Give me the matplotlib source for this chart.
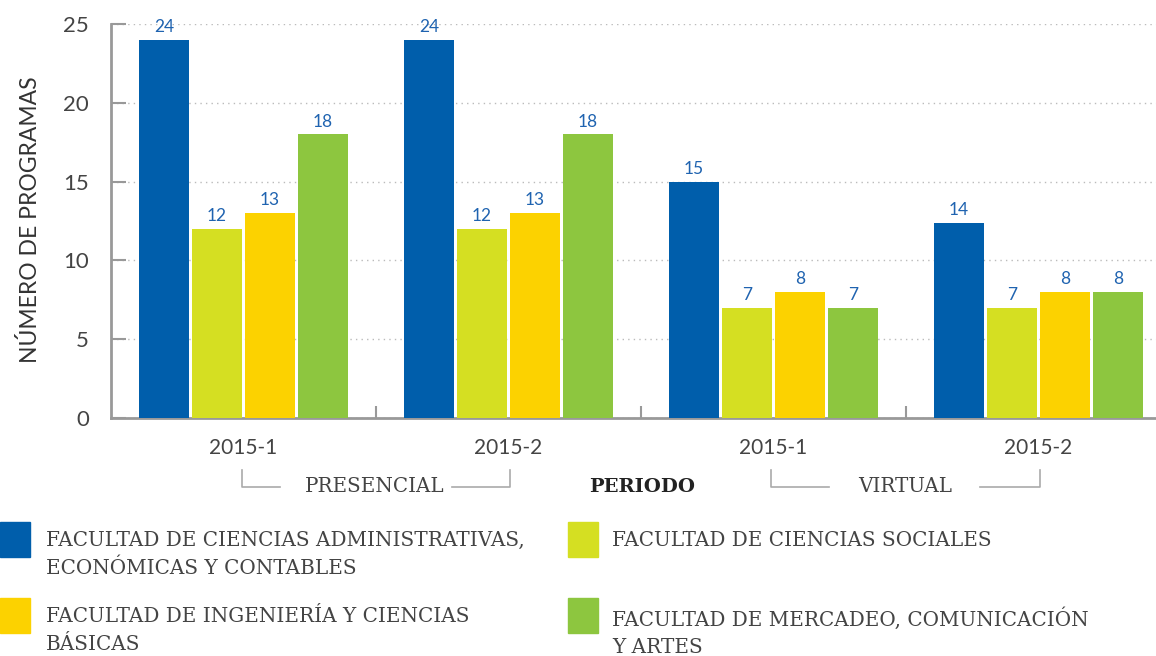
import matplotlib.pyplot as plt
import numpy as np

# datos
periodos = ["2015-1", "2015-2", "2015-1", "2015-2"]
modalidades = ["PRESENCIAL", "VIRTUAL"]
facultades = [
    "FACULTAD DE CIENCIAS ADMINISTRATIVAS,\nECONÓMICAS Y CONTABLES",
    "FACULTAD DE CIENCIAS SOCIALES",
    "FACULTAD DE INGENIERÍA Y CIENCIAS\nBÁSICAS",
    "FACULTAD DE MERCADEO, COMUNICACIÓN\nY ARTES",
]
# alturas de barra tal como se ven (la última azul está dibujada más baja que su etiqueta)
administrativas = [24, 24, 15, 12.4]
sociales = [12, 12, 7, 7]
ingenieria = [13, 13, 8, 8]
mercadeo = [18, 18, 7, 8]
etiquetas = [
    ["24", "24", "15", "14"],
    ["12", "12", "7", "7"],
    ["13", "13", "8", "8"],
    ["18", "18", "7", "8"],
]
colores = ["#005EAB", "#D5DF22", "#FCD200", "#8DC63F"]

W, H = 1156, 656
fig = plt.figure(figsize=(W / 100, H / 100), dpi=100)

def fx(px):
    return px / W

def fy(py):
    return 1 - py / H

ax = fig.add_axes([fx(111), fy(418), fx(1171 - 111), (418 - 24) / H])

series = [administrativas, sociales, ingenieria, mercadeo]
x = np.arange(len(periodos)) + 0.5
offsets = [-0.3, -0.1, 0.1, 0.3]
for serie, off, col, labs in zip(series, offsets, colores, etiquetas):
    bars = ax.bar(x + off, serie, width=0.185, color=col, zorder=3)
    for b, lab in zip(bars, labs):
        ax.text(b.get_x() + b.get_width() / 2, b.get_height() + 0.3, lab,
                ha="center", va="bottom", fontsize=12.5, color="#1F63B0",
                family="Lato", zorder=4)

ax.set_xlim(0, 4)
ax.set_ylim(0, 25)
ax.set_yticks(range(0, 26, 5))
ax.yaxis.grid(True, linestyle=(0, (1, 3)), color="#BBBBBB", linewidth=1, zorder=0)
ax.set_xticks([1, 2, 3])
ax.set_xticklabels([])
ax.tick_params(axis="x", direction="in", length=9, width=1.5, color="#999999")
ax.tick_params(axis="y", direction="in", length=11, width=1.5, color="#999999",
               labelsize=16, labelcolor="#444444", pad=16)
for lbl in ax.get_yticklabels():
    lbl.set_family("Lato")
for s in ["top", "right"]:
    ax.spines[s].set_visible(False)
for s in ["left", "bottom"]:
    ax.spines[s].set_color("#999999")
    ax.spines[s].set_linewidth(2)

fig.text(fx(30), fy(220), "NÚMERO DE PROGRAMAS", rotation=90, ha="center", va="center",
         fontsize=16.5, family="Lato", color="#333333")

# etiquetas de periodo
for xc, p in zip([243, 508, 773, 1038], periodos):
    fig.text(fx(xc), fy(448), p, ha="center", va="center", fontsize=15,
             family="Lato", color="#444444")

serif = "DejaVu Serif"
gris = "#AAAAAA"
for (x0, x1, x2, x3), xc, txt in zip([(242, 280, 452, 510), (771, 829, 980, 1040)],
                                     [375, 905], modalidades):
    fig.add_artist(plt.Line2D([fx(x0), fx(x0), fx(x1)], [fy(470), fy(487), fy(487)],
                              color=gris, linewidth=1.2))
    fig.add_artist(plt.Line2D([fx(x2), fx(x3), fx(x3)], [fy(487), fy(487), fy(470)],
                              color=gris, linewidth=1.2))
    fig.text(fx(xc), fy(487), txt, ha="center", va="center",
             fontsize=14.3, family=serif, color="#444444")

fig.text(fx(642), fy(487), "PERIODO", ha="center", va="center", fontsize=14,
         family=serif, color="#222222", fontweight="bold")

# leyenda
pos = [(0, 522, 46), (568, 522, 612), (0, 598, 46), (568, 598, 612)]
for (sx, sy, tx), col, txt in zip(pos, colores, facultades):
    fig.add_artist(plt.Rectangle((fx(sx), fy(sy + 35)), fx(30), 35 / H, color=col))
    fig.text(fx(tx), fy(sy + 9), txt, ha="left", va="top", fontsize=14.4,
             family=serif, color="#444444", linespacing=1.58)

fig.savefig("out.png", dpi=100)
